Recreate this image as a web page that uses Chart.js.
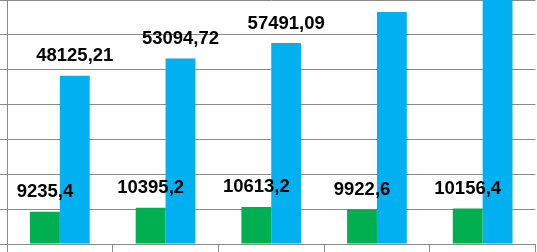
<!DOCTYPE html>
<html>
<head>
<meta charset="utf-8">
<script src="https://cdn.jsdelivr.net/npm/chart.js@4/dist/chart.umd.min.js"></script>
<style>
  html, body { margin: 0; padding: 0; background: #ffffff; overflow: hidden; }
  #wrap { position: absolute; left: 0; top: 0; width: 537px; height: 252px; }
</style>
</head>
<body>
<div id="wrap"><canvas id="c" width="537" height="252"></canvas></div>
<script>
const categories = ["1", "2", "3", "4", "5"];
const greenValues = [9235.4, 10395.2, 10613.2, 9922.6, 10156.4];
const blueValues = [48125.21, 53094.72, 57491.09, 66370, 72000];
const yMin = 0;
const yMax = 69800;
const yStep = 10000;

const GRID = '#8a8a8a';

const labelPlugin = {
  id: 'valueLabels',
  afterDatasetsDraw(chart) {
    const ctx = chart.ctx;
    ctx.save();
    ctx.fillStyle = '#000000';
    ctx.font = 'bold 18.5px "Liberation Sans", Arial, sans-serif';
    ctx.textAlign = 'center';
    ctx.textBaseline = 'alphabetic';
    chart.data.datasets.forEach((ds, di) => {
      const meta = chart.getDatasetMeta(di);
      meta.data.forEach((el, i) => {
        const txt = String(ds.data[i]).replace('.', ',');
        ctx.fillText(txt, el.x, el.y - 14.5);
      });
    });
    ctx.restore();
  }
};

new Chart(document.getElementById('c'), {
  type: 'bar',
  data: {
    labels: categories,
    datasets: [
      { data: greenValues, backgroundColor: '#00B050', borderWidth: 0,
        categoryPercentage: 0.565, barPercentage: 1.0 },
      { data: blueValues, backgroundColor: '#00B0F0', borderWidth: 0,
        categoryPercentage: 0.565, barPercentage: 1.0 }
    ]
  },
  options: {
    responsive: false,
    animation: false,
    devicePixelRatio: 1,
    layout: { padding: { left: 0, right: 1.5, top: 0, bottom: 0 } },
    plugins: { legend: { display: false }, tooltip: { enabled: false } },
    scales: {
      x: {
        offset: true,
        grid: { display: true, drawOnChartArea: false, drawTicks: true, tickLength: 8,
                color: GRID, lineWidth: 1, offset: true },
        border: { display: true, color: GRID, width: 1 },
        ticks: { display: false },
        afterFit(s) { s.height = 8; }
      },
      y: {
        min: yMin,
        max: yMax,
        ticks: { display: false, stepSize: yStep },
        grid: { color: GRID, lineWidth: 1, drawTicks: true, tickLength: 7 },
        border: { display: true, color: GRID, width: 1 },
        afterFit(s) { s.width = 7; }
      }
    }
  },
  plugins: [labelPlugin]
});
</script>
</body>
</html>
